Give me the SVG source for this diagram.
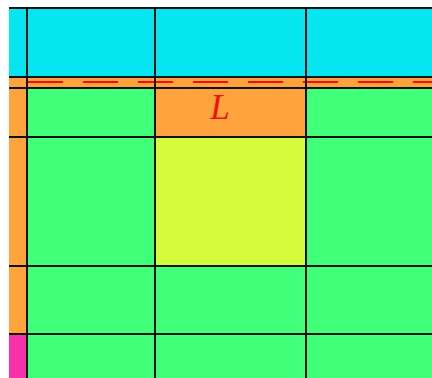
<svg xmlns="http://www.w3.org/2000/svg" width="432" height="378" viewBox="0 0 432 378">
<style>
.cy{fill:#05e6f0}.gr{fill:#40ff79}.or{fill:#ffa33d}.ye{fill:#d4fc3a}.mg{fill:#f731a8}
.ln{stroke:#111;stroke-width:2;fill:none}
.dash{stroke:#f01010;stroke-width:2;stroke-dasharray:35 20;fill:none}
.lbl{font-family:"Liberation Serif",serif;font-style:italic;font-size:35px;fill:#f01010}
</style>
<rect width="432" height="378" fill="#fff"/>
<g id="top-band"><rect class="cy" x="9" y="8" width="423" height="69"/></g>
<g id="boundary-strip"><rect class="or" x="9" y="77" width="423" height="11"/></g>
<g id="left-strip"><rect class="or" x="9" y="88" width="18" height="246"/><rect class="mg" x="9" y="334" width="18" height="44"/></g>
<g id="cell-r1c1"><rect class="gr" x="27" y="88" width="128" height="49"/></g>
<g id="cell-L"><rect class="or" x="155" y="88" width="151" height="49"/><text class="lbl" x="220" y="119" text-anchor="middle">L</text></g>
<g id="cell-r1c3"><rect class="gr" x="306" y="88" width="126" height="49"/></g>
<g id="cell-r2c1"><rect class="gr" x="27" y="137" width="128" height="129"/></g>
<g id="cell-center"><rect class="ye" x="155" y="137" width="151" height="129"/></g>
<g id="cell-r2c3"><rect class="gr" x="306" y="137" width="126" height="129"/></g>
<g id="cell-r3"><rect class="gr" x="27" y="266" width="405" height="112"/></g>
<g id="connectors">
<path class="dash" d="M28 82H432"/>
<path class="ln" d="M9 8H432M9 77H432M9 88H432M9 137H432M9 266H432M9 334H432M27 8V378M155 8V378M306 8V378"/>
</g>
</svg>
